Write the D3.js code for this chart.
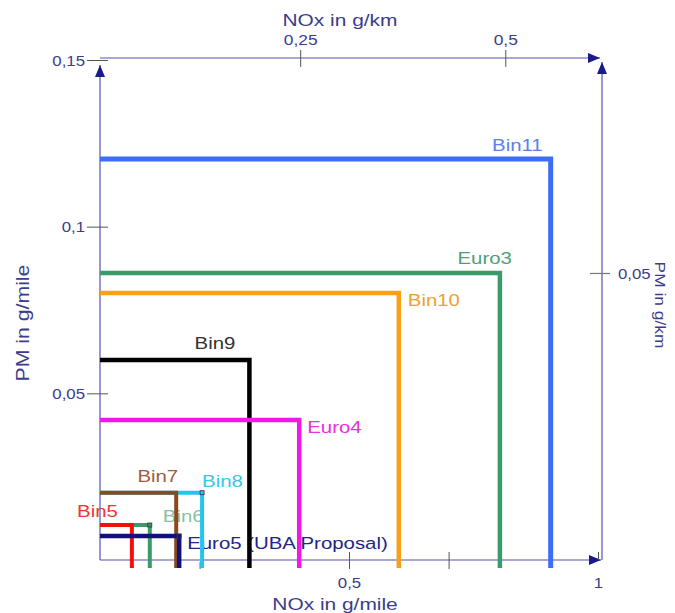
<!DOCTYPE html>
<html>
<head>
<meta charset="utf-8">
<script src="https://cdn.jsdelivr.net/npm/d3@7/dist/d3.min.js"></script>
<style>
  html, body { margin: 0; padding: 0; background: #ffffff; }
  svg { display: block; font-family: "Liberation Sans", Arial, sans-serif; }
</style>
</head>
<body>
<svg id="chart" width="675" height="613"></svg>
<script>
// ---------- data ----------
const standards = ["Bin11", "Euro3", "Bin10", "Bin9", "Euro4", "Bin8", "Bin7", "Bin6", "Bin5", "Euro5 (UBA Proposal)"];
const noxGMile  = [0.905, 0.803, 0.6, 0.3, 0.4, 0.205, 0.153, 0.1, 0.064, 0.159];
const pmGMile   = [0.1203, 0.0861, 0.0801, 0.06, 0.042, 0.0202, 0.0202, 0.0105, 0.0105, 0.0072];

const pmTicksGMile  = [0.05, 0.1, 0.15];
const noxTicksGKm   = [0.25, 0.5];
const pmTicksGKm    = [0.05];
const noxTicksGMile = [0.2, 0.5, 0.7, 1];
const noxLabelledGMile = [0.5, 1];

// ---------- styles (not data) ----------
const lineColors  = ["#3d6cf5", "#3a9a6a", "#f7a01a", "#000000", "#f018e8", "#22c4f0", "#8b4a1e", "#3a9a6a", "#f01010", "#10107e"];
const labelColors = ["#5b80ea", "#4d9f78", "#f0a030", "#333333", "#e830e0", "#34c8f0", "#9c6040", "#84c2a2", "#f03434", "#24248a"];
const lineWidths  = [5, 4.5, 4.5, 4.5, 4.5, 4, 4, 4, 4, 4.5];
const labelPlace  = [
  {dx: -8,  dy: -8,  anchor: "end"},
  {dx: 12,  dy: -9,  anchor: "end"},
  {dx: 9,   dy: 13,  anchor: "start"},
  {dx: -14, dy: -11, anchor: "end"},
  {dx: 8,   dy: 13,  anchor: "start"},
  {dx: 0,   dy: -6,  anchor: "start"},
  {dx: 2,   dy: -11, anchor: "end"},
  {dx: 13,  dy: -3,  anchor: "start"},
  {dx: -14, dy: -8,  anchor: "end"},
  {dx: 8,   dy: 13,  anchor: "start"}
];
const cornerMark = [false, false, false, false, false, true, false, true, false, true];

const axisLine = "#5252b4";
const axisText = "#3c3c8c";
const arrowFill = "#1a1a8a";
const SX = 1.2;

// ---------- scales ----------
const svg = d3.select("#chart");
const x = d3.scaleLinear().domain([0, 1]).range([100, 598]);
const y = d3.scaleLinear().domain([0, 0.15]).range([560, 60]);
const xTop = d3.scaleLinear().domain([0.006, 0.613]).range([100, 598]);
const yRight = d3.scaleLinear().domain([0, 0.0871]).range([560, 60]);

const locale = d3.formatLocale({decimal: ",", thousands: ".", grouping: [3], currency: ["", "€"]});
const fmt = locale.format("~g");

function stretch(sel, sx) {
  sel.each(function () {
    const t = d3.select(this);
    const tx = +t.attr("x") || 0, ty = +t.attr("y") || 0;
    t.attr("x", null).attr("y", null)
     .attr("transform", `translate(${tx},${ty}) scale(${sx},1)`);
  });
}

// arrow marker
svg.append("defs").append("marker")
  .attr("id", "arrow").attr("markerUnits", "userSpaceOnUse")
  .attr("viewBox", "0 0 12 10").attr("markerWidth", 12).attr("markerHeight", 10)
  .attr("refX", 12).attr("refY", 5).attr("orient", "auto")
  .append("path").attr("d", "M0,0 L12,5 L0,10 Z").attr("fill", arrowFill);

// ---------- axis lines ----------
const axLines = svg.append("g").attr("fill", "none").attr("stroke", axisLine).attr("stroke-width", 1.2);
// left (PM g/mile) arrow up
axLines.append("line").attr("x1", x(0)).attr("y1", y(0)).attr("x2", x(0)).attr("y2", y(0.15) + 5).attr("marker-end", "url(#arrow)");
// bottom (NOx g/mile) arrow right
axLines.append("line").attr("x1", x(0)).attr("y1", y(0)).attr("x2", x(1) + 3).attr("y2", y(0)).attr("marker-end", "url(#arrow)");
// top (NOx g/km) arrow right
axLines.append("line").attr("x1", x(0)).attr("y1", y(0.15) - 2).attr("x2", x(1) + 2).attr("y2", y(0.15) - 2).attr("marker-end", "url(#arrow)");
// right (PM g/km) arrow up
axLines.append("line").attr("x1", x(1) + 4).attr("y1", y(0)).attr("x2", x(1) + 4).attr("y2", y(0.15) + 2).attr("marker-end", "url(#arrow)");

// ---------- axes ticks & labels ----------
// left
const gL = svg.append("g").attr("transform", `translate(${x(0)},0)`)
  .call(d3.axisLeft(y).tickValues(pmTicksGMile).tickFormat(fmt).tickSize(0).tickPadding(15));
gL.select(".domain").remove();
gL.selectAll(".tick line").attr("x1", -13).attr("x2", 8).attr("stroke", "#555").attr("stroke-width", 1);
gL.selectAll(".tick text").attr("font-size", 14).attr("fill", axisText).attr("font-family", null).attr("dy", "0.36em");
stretch(gL.selectAll(".tick text"), SX);

// top
const gT = svg.append("g").attr("transform", `translate(0,${y(0.15) - 2})`)
  .call(d3.axisTop(xTop).tickValues(noxTicksGKm).tickFormat(fmt).tickSize(0).tickPadding(13));
gT.select(".domain").remove();
gT.selectAll(".tick line").attr("y1", -8).attr("y2", 9).attr("stroke", "#555").attr("stroke-width", 1);
gT.selectAll(".tick text").attr("font-size", 14.5).attr("fill", axisText).attr("font-family", null).attr("dy", "0em");
stretch(gT.selectAll(".tick text"), SX);

// right
const gR = svg.append("g").attr("transform", `translate(${x(1) + 4},0)`)
  .call(d3.axisRight(yRight).tickValues(pmTicksGKm).tickFormat(fmt).tickSize(0).tickPadding(16));
gR.select(".domain").remove();
gR.selectAll(".tick line").attr("x1", -12).attr("x2", 8).attr("stroke", "#777").attr("stroke-width", 1.2);
gR.selectAll(".tick text").attr("font-size", 14).attr("fill", axisText).attr("font-family", null).attr("dy", "0.36em");
stretch(gR.selectAll(".tick text"), SX);

// bottom
const gB = svg.append("g").attr("transform", `translate(0,${y(0)})`)
  .call(d3.axisBottom(x).tickValues(noxTicksGMile)
    .tickFormat(d => noxLabelledGMile.includes(d) ? fmt(d) : "").tickSize(0).tickPadding(18));
gB.select(".domain").remove();
gB.selectAll(".tick line")
  .attr("y1", d => d === 0.2 ? 2 : -8).attr("y2", d => d === 1 ? 0 : 9)
  .attr("stroke", "#555").attr("stroke-width", 1);
gB.selectAll(".tick text").attr("font-size", 14).attr("fill", axisText).attr("font-family", null);
stretch(gB.selectAll(".tick text"), SX);

// axis titles
function title(txt, tx, ty, rot, size, sx) {
  svg.append("text")
    .attr("transform", `translate(${tx},${ty}) rotate(${rot}) scale(${sx},1)`)
    .attr("text-anchor", "middle").attr("dy", "0.35em")
    .attr("font-size", size).attr("fill", axisText).text(txt);
}
title("NOx in g/km", 340, 20, 0, 17, 1.23);
title("NOx in g/mile", 335, 604, 0, 17, 1.23);
title("PM in g/mile", 23, 323, -90, 18, 1.18);
title("PM in g/km", 660, 305, 90, 14.5, 1.2);

// ---------- labels (drawn beneath lines) ----------
const idx = d3.range(standards.length);
svg.append("g").selectAll("text").data(idx).join("text")
  .attr("transform", i => `translate(${x(noxGMile[i]) + labelPlace[i].dx},${y(pmGMile[i]) + labelPlace[i].dy}) scale(${SX},1)`)
  .attr("text-anchor", i => labelPlace[i].anchor)
  .attr("font-size", 17)
  .attr("fill", i => labelColors[i])
  .text(i => standards[i]);

// ---------- limit lines ----------
svg.append("g").attr("fill", "none").selectAll("path").data(idx).join("path")
  .attr("d", i => {
    const p = d3.path();
    p.moveTo(x(0), y(pmGMile[i]));
    p.lineTo(x(noxGMile[i]), y(pmGMile[i]));
    p.lineTo(x(noxGMile[i]), y(0) + 8);
    return p.toString();
  })
  .attr("stroke", i => lineColors[i])
  .attr("stroke-width", i => lineWidths[i])
  .attr("stroke-linejoin", "miter");

// small corner markers
svg.append("g").selectAll("rect").data(idx.filter(i => cornerMark[i])).join("rect")
  .attr("x", i => x(noxGMile[i]) - 2).attr("y", i => y(pmGMile[i]) - 2)
  .attr("width", 4).attr("height", 4)
  .attr("fill", "none").attr("stroke", "#334").attr("stroke-width", 0.8);
</script>
</body>
</html>
